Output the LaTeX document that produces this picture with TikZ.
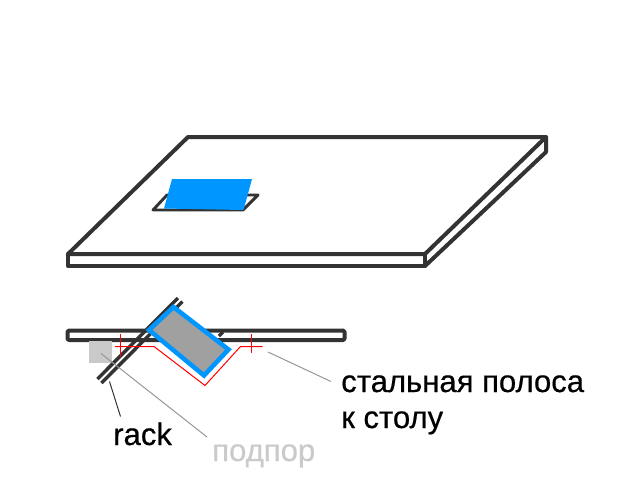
\documentclass[tikz,border=0pt]{standalone}
\usepackage{fontspec}
\setmainfont{Liberation Sans}
\usetikzlibrary{calc}
\definecolor{barcol}{HTML}{333333}
\definecolor{patchblue}{HTML}{0096FF}
\definecolor{slabgrey}{HTML}{A0A0A0}
\definecolor{propgrey}{HTML}{CACACA}
\definecolor{leadgrey}{HTML}{969696}
\tikzset{
    thickbar/.style={draw=barcol, line width=3pt, line join=round, line cap=round},
    racktube/.style={draw=barcol, line width=2.6pt},
    redline/.style={draw=red, line width=0.75pt},
    leadline/.style={draw=leadgrey, line width=0.75pt},
    caption/.style={anchor=base west, inner sep=0pt, font=\fontsize{23.3}{28}\selectfont\addfontfeature{FakeBold=0.5}}
}
\begin{document}
\begin{tikzpicture}[x=0.75pt, y=-0.75pt]
    \useasboundingbox (0,0) rectangle (640,480);

    %points of the table top
    \coordinate (TL) at (188,137);
    \coordinate (TR) at (546,137);
    \coordinate (TS) at (546,152);
    \coordinate (FL) at (68,254);
    \coordinate (FR) at (425,254);
    \coordinate (GL) at (68,266);
    \coordinate (GR) at (425,266);

    %table top
    \draw[thickbar] (FL)--(TL)--(TR)--(FR)--cycle;
    \draw[thickbar] (FL)--(GL)--(GR)--(FR);
    \draw[thickbar] (TR)--(TS)--(GR);

    %hole with the blue patch
    \draw[thickbar, line width=2.2pt] (167,195)--(153,210)--(243,210)--(258,195)--cycle;
    \fill[patchblue] (172,179)--(252,179)--(243.5,210)--(164,208.5)--cycle;

    %section: table top
    \draw[thickbar, rounded corners=1pt] (67.5,330.5) rectangle (344.5,340);
    \fill[propgrey] (89,341) rectangle (112,363);

    %rack tubes
    \draw[racktube] (97.5,379)--(178,298);
    \draw[racktube] (101.5,383)--(182.5,301.5);
    \draw[racktube] (219,336)--(223,332);

    %slab
    \draw[fill=slabgrey, draw=patchblue, line width=3.4pt, line join=miter]
        (173.5,307)--(228.5,349.5)--(204,375.5)--(149,330)--cycle;

    %steel strip with the crosses
    \draw[redline] (115,346.5)--(154,346.5)--(205,385.5)--(240.5,346.5)--(262.5,346.5);
    \draw[redline] (120.5,334)--(120.5,357);
    \draw[redline] (251.5,334)--(251.5,352.5);

    %text
    \node[caption] (strip1) at (341,392) {стальная полоса};
    \node[caption] (strip2) at (341,428) {к столу};
    \node[caption] (rack) at (113,445) {rack};
    \node[caption, text=propgrey] (prop) at (212,461) {подпор};

    %leaders
    \coordinate (stripA) at (268,352);
    \coordinate (stripB) at (331,381.5);
    \coordinate (propA) at (101,353.5);
    \coordinate (propB) at (207,437);
    \coordinate (rackA) at (109.5,381.5);
    \coordinate (rackB) at (120.5,416.5);
    \draw[leadline] (stripA)--(stripB);
    \draw[leadline] (propA)--(propB);
    \draw[draw=barcol, line width=0.75pt] (rackA)--(rackB);
\end{tikzpicture}
\end{document}
